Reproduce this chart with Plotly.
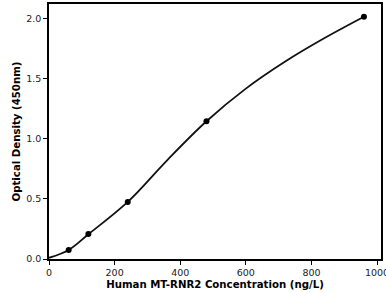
import plotly.graph_objects as go

conc = [60, 120, 240, 480, 960]
od = [0.075, 0.207, 0.474, 1.144, 2.012]

curve_x = [0, 60, 120, 240, 360, 480, 600, 720, 840, 960]
curve_y = [0.01, 0.075, 0.205, 0.474, 0.82, 1.144, 1.415, 1.64, 1.835, 2.012]

fig = go.Figure()
fig.add_trace(go.Scatter(x=curve_x, y=curve_y, mode="lines",
                         line=dict(color="#111111", width=1.8, shape="spline"),
                         hoverinfo="skip", showlegend=False))
fig.add_trace(go.Scatter(x=conc, y=od, mode="markers",
                         marker=dict(color="black", size=6),
                         showlegend=False))

axis_common = dict(showline=True, linecolor="black", linewidth=1.5, mirror=True,
                   ticks="outside", ticklen=4, tickwidth=1, tickcolor="black",
                   showgrid=False, zeroline=False, automargin=False,
                   ticklabeloverflow="allow",
                   tickfont=dict(family="DejaVu Sans", size=9.5, color="#222"))
fig.update_xaxes(range=[0, 1012], tickvals=[0, 200, 400, 600, 800, 1000],
                 title=dict(text="<b>Human MT-RNR2 Concentration (ng/L)</b>",
                            font=dict(family="DejaVu Sans", size=10.2, color="black"),
                            standoff=4),
                 **axis_common)
fig.update_yaxes(range=[0, 2.118], tickvals=[0, 0.5, 1.0, 1.5, 2.0],
                 tickformat=".1f",
                 title=dict(text="<b>Optical Density (450nm)</b>",
                            font=dict(family="DejaVu Sans", size=10.2, color="black"),
                            standoff=4),
                 **axis_common)
fig.update_layout(width=386, height=293, margin=dict(l=49, r=5, t=4, b=34),
                  plot_bgcolor="white", paper_bgcolor="white")
fig.write_html("out.html", config={"displayModeBar": False},
               post_script="document.body.style.margin='0';document.body.style.overflow='hidden';")
